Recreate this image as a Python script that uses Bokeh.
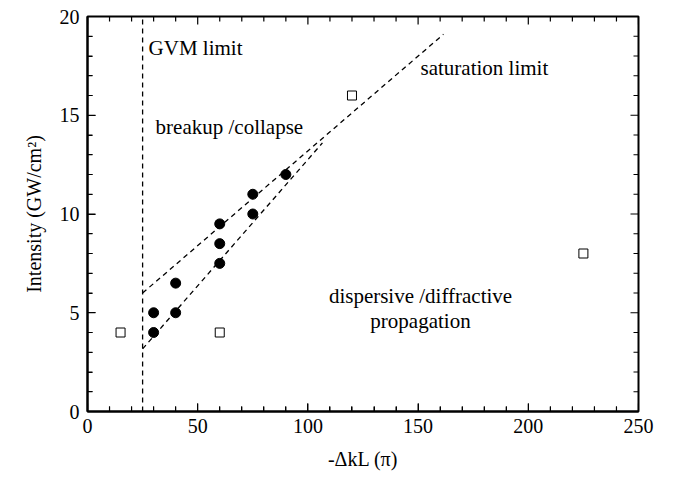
from bokeh.plotting import figure
from bokeh.models import Range1d, SingleIntervalTicker, Label
from bokeh.embed import file_html
from bokeh.resources import INLINE

# Data
collapse_x = [30, 30, 40, 40, 60, 60, 60, 75, 75, 90]
collapse_y = [5, 4, 6.5, 5, 9.5, 8.5, 7.5, 11, 10, 12]
disp_x = [15, 60, 120, 225]
disp_y = [4, 4, 16, 8]
gvm_x = [25, 25]
gvm_y = [0, 20]
sat_x = [25, 161.5]
sat_y = [6.0, 19.1]
low_x = [25, 106.6]
low_y = [3.17, 13.6]

x_major = [0, 50, 100, 150, 200, 250]
x_minor = [v for v in range(0, 251, 10) if v % 50]
y_major = [0, 5, 10, 15, 20]
y_minor = [v for v in range(0, 21) if v % 5]
X_MIN, X_MAX, Y_MIN, Y_MAX = 0, 250, 0, 20

FONT = "Liberation Serif"
W, H = 673, 480
BL, BR, BT, BB = 87, 35, 16, 69

p = figure(width=W, height=H, output_backend="svg", toolbar_location=None,
           x_range=Range1d(X_MIN, X_MAX), y_range=Range1d(Y_MIN, Y_MAX),
           min_border_left=BL, min_border_right=BR, min_border_top=BT, min_border_bottom=BB,
           x_axis_label="-\u0394kL (\u03c0)", y_axis_label="Intensity (GW/cm\u00b2)")
p.grid.visible = False
p.outline_line_color = "black"
p.outline_line_width = 2

p.xaxis.ticker = SingleIntervalTicker(interval=50, num_minor_ticks=5)
p.yaxis.ticker = SingleIntervalTicker(interval=5, num_minor_ticks=5)

for ax in (p.xaxis[0], p.yaxis[0]):
    ax.axis_line_width = 2
    ax.major_tick_in = 8
    ax.major_tick_out = 0
    ax.minor_tick_in = 5
    ax.minor_tick_out = 0
    ax.major_tick_line_color = "black"
    ax.minor_tick_line_color = "black"
    ax.major_label_text_font = FONT
    ax.major_label_text_font_size = "20px"
    ax.major_label_text_color = "black"
    ax.axis_label_text_font = FONT
    ax.axis_label_text_font_size = "20px"
    ax.axis_label_text_font_style = "normal"
    ax.axis_label_text_color = "black"
p.xaxis.major_label_standoff = 7
p.xaxis.axis_label_standoff = 12
p.yaxis.major_label_standoff = 8
p.yaxis.axis_label_standoff = 12

dash = "5 4"
p.line(gvm_x, gvm_y, line_color="black", line_width=1.3, line_dash=dash)
p.line(sat_x, sat_y, line_color="black", line_width=1.3, line_dash=dash)
p.line(low_x, low_y, line_color="black", line_width=1.3, line_dash=dash)

p.scatter(collapse_x, collapse_y, marker="circle", size=10, fill_color="black", line_color="black")
p.scatter(disp_x, disp_y, marker="square", size=9, fill_color="white", line_color="black", line_width=1)

# inward ticks on all four sides, as solid segments; length converted from pixels to data units
px_x = (X_MAX - X_MIN) / (W - BL - BR)
px_y = (Y_MAX - Y_MIN) / (H - BT - BB)
for xs, ln in ((x_major, 8), (x_minor, 5)):
    n = len(xs)
    p.segment(x0=xs, y0=[Y_MIN] * n, x1=xs, y1=[Y_MIN + ln * px_y] * n,
              line_color="black", line_width=1.2, line_dash="solid")
    p.segment(x0=xs, y0=[Y_MAX] * n, x1=xs, y1=[Y_MAX - ln * px_y] * n,
              line_color="black", line_width=1.2, line_dash="solid")
for ys, ln in ((y_major, 8), (y_minor, 5)):
    n = len(ys)
    p.segment(x0=[X_MIN] * n, y0=ys, x1=[X_MIN + ln * px_x] * n, y1=ys,
              line_color="black", line_width=1.2, line_dash="solid")
    p.segment(x0=[X_MAX] * n, y0=ys, x1=[X_MAX - ln * px_x] * n, y1=ys,
              line_color="black", line_width=1.2, line_dash="solid")

def lab(x, y, t, align="left"):
    p.add_layout(Label(x=x, y=y, text=t, text_font=FONT, text_font_size="21px",
                       text_align=align, text_baseline="middle", text_color="black"))

lab(27.7, 18.43, "GVM limit")
lab(30.9, 14.4, "breakup /collapse")
lab(151.1, 17.37, "saturation limit")
lab(151.1, 5.87, "dispersive /diffractive", "center")
lab(151.1, 4.6, "propagation", "center")

open("out.html", "w").write(file_html(p, INLINE))
